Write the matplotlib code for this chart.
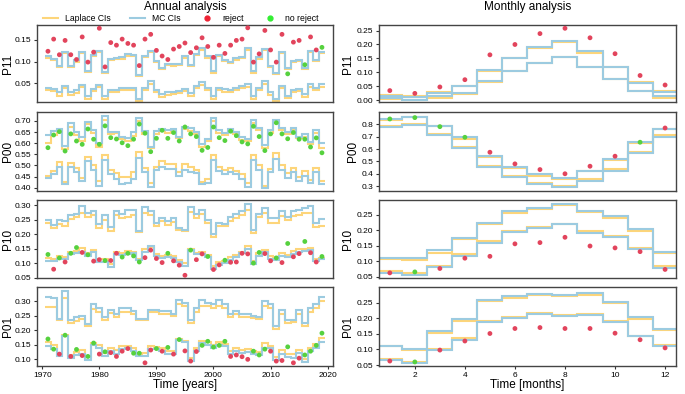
import matplotlib
matplotlib.use("Agg")
import matplotlib.pyplot as plt
from matplotlib.lines import Line2D
import numpy as np

plt.rcParams["font.family"] = ["Liberation Sans", "DejaVu Sans"]

YEARS = list(range(1971, 2020))
MONTHS = list(range(1, 13))

# ---- annual analysis -------------------------------------------------------
p11_obs = [0.124, 0.152, 0.116, 0.149, 0.116, 0.105, 0.157, 0.099, 0.122, 0.177,
           0.088, 0.144, 0.138, 0.152, 0.142, 0.138, 0.091, 0.152, 0.163, 0.126,
           0.113, 0.105, 0.129, 0.135, 0.143, 0.121, 0.132, 0.155, 0.135, 0.110,
           0.138, 0.119, 0.138, 0.149, 0.152, 0.178, 0.099, 0.118, 0.172, 0.127,
           0.099, 0.163, 0.072, 0.145, 0.149, 0.093, 0.157, 0.127, 0.133]
p11_rej = [1] * 42 + [0, 1, 1, 0, 1, 1, 0]
p11_mc_up = [0.112, 0.107, 0.090, 0.122, 0.090, 0.103, 0.123, 0.079, 0.115, 0.125,
             0.077, 0.107, 0.108, 0.110, 0.117, 0.115, 0.070, 0.112, 0.125, 0.102,
             0.085, 0.095, 0.094, 0.094, 0.112, 0.093, 0.118, 0.131, 0.112, 0.078,
             0.115, 0.105, 0.100, 0.108, 0.111, 0.131, 0.078, 0.110, 0.130, 0.090,
             0.075, 0.123, 0.085, 0.102, 0.105, 0.085, 0.125, 0.105, 0.122]
p11_lap_up = [0.109, 0.104, 0.088, 0.119, 0.087, 0.100, 0.120, 0.076, 0.112, 0.122,
              0.074, 0.104, 0.106, 0.107, 0.114, 0.112, 0.067, 0.110, 0.122, 0.099,
              0.082, 0.092, 0.091, 0.092, 0.109, 0.090, 0.116, 0.128, 0.109, 0.075,
              0.113, 0.102, 0.098, 0.105, 0.108, 0.128, 0.075, 0.107, 0.127, 0.087,
              0.072, 0.120, 0.082, 0.099, 0.102, 0.082, 0.122, 0.102, 0.120]
p11_mc_lo = [0.040, 0.038, 0.030, 0.045, 0.030, 0.035, 0.047, 0.022, 0.038, 0.047,
             0.020, 0.035, 0.035, 0.040, 0.040, 0.040, 0.015, 0.040, 0.055, 0.035,
             0.025, 0.030, 0.030, 0.032, 0.038, 0.028, 0.045, 0.053, 0.040, 0.020,
             0.040, 0.036, 0.035, 0.040, 0.045, 0.048, 0.020, 0.040, 0.055, 0.030,
             0.015, 0.045, 0.022, 0.035, 0.038, 0.025, 0.048, 0.040, 0.048]
p11_lap_lo = [0.034, 0.032, 0.022, 0.040, 0.024, 0.028, 0.042, 0.015, 0.032, 0.042,
              0.013, 0.029, 0.030, 0.035, 0.034, 0.034, 0.009, 0.034, 0.049, 0.029,
              0.019, 0.024, 0.025, 0.027, 0.032, 0.022, 0.040, 0.047, 0.034, 0.014,
              0.034, 0.030, 0.030, 0.034, 0.039, 0.042, 0.014, 0.034, 0.049, 0.024,
              0.010, 0.040, 0.016, 0.029, 0.032, 0.019, 0.042, 0.034, 0.042]

p00_obs = [0.580, 0.637, 0.652, 0.565, 0.642, 0.610, 0.595, 0.664, 0.618, 0.595,
           0.678, 0.625, 0.619, 0.602, 0.589, 0.618, 0.686, 0.645, 0.562, 0.622,
           0.658, 0.622, 0.648, 0.610, 0.673, 0.642, 0.630, 0.568, 0.581, 0.673,
           0.625, 0.612, 0.654, 0.634, 0.606, 0.597, 0.676, 0.630, 0.567, 0.642,
           0.692, 0.642, 0.620, 0.648, 0.618, 0.618, 0.583, 0.624, 0.557]
p00_rej = [0] * 49
p00_mc_up = [0.635, 0.655, 0.665, 0.588, 0.690, 0.650, 0.630, 0.695, 0.660, 0.600,
             0.722, 0.650, 0.652, 0.630, 0.625, 0.650, 0.715, 0.655, 0.585, 0.655,
             0.665, 0.660, 0.662, 0.630, 0.672, 0.668, 0.650, 0.595, 0.620, 0.715,
             0.660, 0.645, 0.665, 0.650, 0.628, 0.620, 0.705, 0.668, 0.590, 0.660,
             0.705, 0.670, 0.650, 0.670, 0.630, 0.640, 0.605, 0.660, 0.600]
p00_lap_up = [0.602, 0.638, 0.655, 0.575, 0.675, 0.638, 0.612, 0.685, 0.648, 0.585,
              0.705, 0.640, 0.645, 0.620, 0.612, 0.632, 0.702, 0.640, 0.578, 0.640,
              0.655, 0.648, 0.650, 0.622, 0.662, 0.655, 0.640, 0.585, 0.608, 0.700,
              0.648, 0.635, 0.652, 0.640, 0.615, 0.610, 0.690, 0.658, 0.580, 0.648,
              0.690, 0.660, 0.640, 0.660, 0.622, 0.628, 0.595, 0.648, 0.580]
p00_mc_lo = [0.445, 0.460, 0.495, 0.415, 0.495, 0.470, 0.430, 0.520, 0.480, 0.410,
             0.525, 0.460, 0.440, 0.415, 0.420, 0.440, 0.535, 0.470, 0.405, 0.480,
             0.495, 0.485, 0.485, 0.455, 0.480, 0.470, 0.465, 0.415, 0.420, 0.525,
             0.475, 0.460, 0.470, 0.460, 0.440, 0.405, 0.525, 0.480, 0.400, 0.470,
             0.530, 0.480, 0.445, 0.470, 0.430, 0.455, 0.420, 0.470, 0.415]
p00_lap_lo = [0.455, 0.475, 0.515, 0.425, 0.510, 0.490, 0.445, 0.540, 0.500, 0.430,
              0.545, 0.480, 0.465, 0.450, 0.450, 0.470, 0.560, 0.490, 0.420, 0.495,
              0.520, 0.505, 0.505, 0.470, 0.505, 0.495, 0.480, 0.425, 0.440, 0.545,
              0.495, 0.480, 0.490, 0.475, 0.460, 0.420, 0.545, 0.500, 0.410, 0.485,
              0.555, 0.500, 0.465, 0.490, 0.450, 0.475, 0.435, 0.490, 0.430]

p10_obs = [0.130, 0.079, 0.118, 0.104, 0.134, 0.154, 0.137, 0.129, 0.107, 0.112,
           0.109, 0.109, 0.134, 0.121, 0.134, 0.125, 0.104, 0.119, 0.145, 0.116,
           0.102, 0.134, 0.108, 0.093, 0.058, 0.145, 0.112, 0.132, 0.123, 0.078,
           0.094, 0.110, 0.103, 0.104, 0.134, 0.132, 0.100, 0.137, 0.133, 0.108,
           0.118, 0.102, 0.168, 0.122, 0.133, 0.175, 0.136, 0.104, 0.123]
p10_rej = [0, 1, 0, 1, 0, 0, 1, 0, 1, 1, 0, 1, 1, 0, 0, 0, 0, 1, 1, 1,
           1, 0, 1, 1, 1, 0, 1, 1, 0, 1, 1, 0, 1, 1, 1, 1, 0, 0, 1, 1,
           0, 1, 0, 1, 1, 0, 1, 1, 0]
p10_mc_up = [0.250, 0.232, 0.248, 0.245, 0.268, 0.270, 0.298, 0.275, 0.280, 0.235,
             0.265, 0.225, 0.280, 0.270, 0.285, 0.285, 0.210, 0.295, 0.280, 0.240,
             0.255, 0.245, 0.255, 0.220, 0.215, 0.295, 0.270, 0.285, 0.250, 0.200,
             0.240, 0.235, 0.260, 0.270, 0.280, 0.305, 0.215, 0.270, 0.290, 0.255,
             0.255, 0.280, 0.260, 0.280, 0.285, 0.290, 0.298, 0.240, 0.252]
p10_lap_up = [0.238, 0.222, 0.235, 0.230, 0.252, 0.258, 0.275, 0.260, 0.265, 0.222,
              0.250, 0.210, 0.265, 0.255, 0.260, 0.265, 0.208, 0.275, 0.265, 0.228,
              0.245, 0.232, 0.242, 0.215, 0.210, 0.278, 0.255, 0.270, 0.240, 0.192,
              0.230, 0.230, 0.245, 0.255, 0.265, 0.285, 0.205, 0.258, 0.275, 0.240,
              0.240, 0.262, 0.248, 0.262, 0.268, 0.272, 0.275, 0.225, 0.228]
p10_mc_lo = [0.108, 0.108, 0.115, 0.115, 0.130, 0.135, 0.140, 0.125, 0.140, 0.105,
             0.105, 0.088, 0.130, 0.128, 0.130, 0.135, 0.110, 0.140, 0.158, 0.125,
             0.118, 0.120, 0.118, 0.105, 0.090, 0.145, 0.130, 0.130, 0.120, 0.080,
             0.095, 0.100, 0.112, 0.120, 0.135, 0.150, 0.098, 0.125, 0.140, 0.115,
             0.112, 0.125, 0.120, 0.132, 0.140, 0.142, 0.145, 0.108, 0.115]
p10_lap_lo = [0.118, 0.115, 0.125, 0.122, 0.138, 0.142, 0.152, 0.135, 0.145, 0.115,
              0.115, 0.098, 0.140, 0.135, 0.142, 0.140, 0.115, 0.148, 0.155, 0.130,
              0.125, 0.128, 0.125, 0.112, 0.100, 0.148, 0.135, 0.138, 0.128, 0.090,
              0.105, 0.108, 0.120, 0.128, 0.140, 0.160, 0.108, 0.135, 0.145, 0.125,
              0.122, 0.135, 0.128, 0.142, 0.148, 0.150, 0.152, 0.115, 0.118]

p01_obs = [0.170, 0.135, 0.118, 0.183, 0.110, 0.134, 0.113, 0.110, 0.156, 0.118,
           0.126, 0.123, 0.110, 0.128, 0.137, 0.121, 0.121, 0.088, 0.132, 0.137,
           0.128, 0.141, 0.118, 0.168, 0.129, 0.094, 0.127, 0.148, 0.162, 0.142,
           0.148, 0.162, 0.110, 0.115, 0.109, 0.100, 0.128, 0.115, 0.135, 0.128,
           0.094, 0.096, 0.143, 0.088, 0.104, 0.115, 0.128, 0.148, 0.190]
p01_rej = [0, 0, 1, 0, 1, 0, 1, 0, 0, 1, 0, 1, 1, 1, 1, 0, 0, 1, 1, 0,
           1, 0, 1, 0, 1, 1, 1, 0, 0, 0, 0, 0, 1, 1, 1, 1, 0, 0, 0, 1,
           1, 1, 0, 1, 1, 0, 0, 0, 0]
p01_mc_up = [0.315, 0.310, 0.240, 0.335, 0.235, 0.245, 0.250, 0.220, 0.290, 0.275,
             0.245, 0.270, 0.255, 0.275, 0.275, 0.265, 0.240, 0.240, 0.270, 0.270,
             0.265, 0.265, 0.255, 0.305, 0.295, 0.235, 0.275, 0.305, 0.295, 0.290,
             0.305, 0.290, 0.255, 0.265, 0.255, 0.255, 0.250, 0.245, 0.300, 0.290,
             0.215, 0.270, 0.235, 0.235, 0.270, 0.225, 0.275, 0.290, 0.315]
p01_lap_up = [0.280, 0.280, 0.235, 0.310, 0.225, 0.232, 0.240, 0.215, 0.272, 0.262,
              0.235, 0.258, 0.245, 0.262, 0.262, 0.255, 0.235, 0.236, 0.262, 0.262,
              0.255, 0.255, 0.248, 0.292, 0.282, 0.225, 0.262, 0.285, 0.282, 0.278,
              0.285, 0.278, 0.245, 0.255, 0.245, 0.245, 0.242, 0.238, 0.282, 0.275,
              0.205, 0.255, 0.225, 0.228, 0.255, 0.215, 0.262, 0.275, 0.300]
p01_mc_lo = [0.145, 0.135, 0.110, 0.180, 0.105, 0.115, 0.120, 0.098, 0.148, 0.140,
             0.112, 0.130, 0.120, 0.135, 0.138, 0.128, 0.110, 0.112, 0.135, 0.135,
             0.128, 0.120, 0.120, 0.165, 0.158, 0.095, 0.128, 0.155, 0.150, 0.140,
             0.150, 0.145, 0.118, 0.128, 0.122, 0.125, 0.118, 0.115, 0.140, 0.138,
             0.098, 0.120, 0.108, 0.105, 0.122, 0.090, 0.128, 0.140, 0.158]
p01_lap_lo = [0.158, 0.148, 0.118, 0.185, 0.115, 0.125, 0.132, 0.108, 0.155, 0.148,
              0.122, 0.140, 0.132, 0.145, 0.145, 0.138, 0.118, 0.122, 0.145, 0.142,
              0.138, 0.130, 0.130, 0.170, 0.162, 0.105, 0.138, 0.162, 0.158, 0.150,
              0.158, 0.152, 0.130, 0.138, 0.132, 0.135, 0.128, 0.125, 0.155, 0.145,
              0.108, 0.132, 0.118, 0.118, 0.132, 0.100, 0.138, 0.152, 0.175]

# ---- monthly analysis ------------------------------------------------------
m11_obs = [0.035, 0.025, 0.048, 0.074, 0.163, 0.200, 0.239, 0.258, 0.224, 0.167, 0.089, 0.055]
m11_rej = [1] * 12
m11_mc_up = [0.016, 0.012, 0.027, 0.050, 0.107, 0.153, 0.190, 0.212, 0.175, 0.120, 0.062, 0.030]
m11_lap_up = [0.018, 0.015, 0.029, 0.052, 0.105, 0.153, 0.188, 0.210, 0.170, 0.118, 0.065, 0.032]
m11_mc_lo = [0.007, 0.003, 0.014, 0.028, 0.068, 0.105, 0.135, 0.157, 0.120, 0.078, 0.035, 0.015]
m11_lap_lo = [0.005, 0.002, 0.010, 0.024, 0.066, 0.104, 0.135, 0.155, 0.120, 0.077, 0.033, 0.010]

m00_obs = [0.843, 0.854, 0.781, 0.695, 0.574, 0.480, 0.434, 0.400, 0.461, 0.542, 0.655, 0.770]
m00_rej = [0, 0, 0, 0, 1, 1, 1, 1, 1, 1, 0, 1]
m00_mc_up = [0.845, 0.860, 0.790, 0.700, 0.540, 0.455, 0.395, 0.365, 0.425, 0.520, 0.660, 0.765]
m00_lap_up = [0.835, 0.855, 0.785, 0.685, 0.535, 0.445, 0.385, 0.360, 0.420, 0.510, 0.645, 0.765]
m00_mc_lo = [0.780, 0.795, 0.715, 0.610, 0.455, 0.370, 0.315, 0.290, 0.340, 0.425, 0.570, 0.700]
m00_lap_lo = [0.785, 0.800, 0.725, 0.620, 0.460, 0.385, 0.325, 0.300, 0.355, 0.435, 0.580, 0.710]

m10_obs = [0.063, 0.066, 0.077, 0.110, 0.116, 0.156, 0.160, 0.177, 0.149, 0.143, 0.131, 0.074]
m10_rej = [1, 0, 1, 1, 1, 1, 1, 1, 1, 1, 1, 1]
m10_mc_up = [0.112, 0.110, 0.137, 0.176, 0.222, 0.262, 0.272, 0.284, 0.262, 0.245, 0.203, 0.130]
m10_lap_up = [0.108, 0.104, 0.128, 0.170, 0.218, 0.255, 0.267, 0.280, 0.258, 0.238, 0.198, 0.128]
m10_mc_lo = [0.063, 0.055, 0.082, 0.118, 0.160, 0.195, 0.207, 0.218, 0.190, 0.178, 0.140, 0.080]
m10_lap_lo = [0.068, 0.063, 0.085, 0.122, 0.165, 0.197, 0.210, 0.220, 0.197, 0.182, 0.143, 0.085]

m01_obs = [0.063, 0.060, 0.098, 0.127, 0.151, 0.167, 0.170, 0.167, 0.167, 0.152, 0.131, 0.105]
m01_rej = [1, 0, 1, 1, 1, 1, 1, 1, 1, 1, 1, 1]
m01_mc_up = [0.112, 0.100, 0.160, 0.198, 0.258, 0.272, 0.278, 0.273, 0.282, 0.253, 0.205, 0.165]
m01_lap_up = [0.110, 0.098, 0.152, 0.190, 0.254, 0.266, 0.275, 0.270, 0.274, 0.248, 0.198, 0.162]
m01_mc_lo = [0.065, 0.057, 0.098, 0.130, 0.188, 0.200, 0.212, 0.208, 0.210, 0.188, 0.142, 0.112]
m01_lap_lo = [0.070, 0.060, 0.103, 0.136, 0.192, 0.205, 0.215, 0.210, 0.212, 0.190, 0.143, 0.115]

LAP = "#FDD57A"
MC = "#9CCBE0"
RED = "#E2445C"
GREEN = "#56D13E"

annual = [
    ("P11", p11_obs, p11_rej, p11_lap_up, p11_lap_lo, p11_mc_up, p11_mc_lo,
     (0.007, 0.184), [0.05, 0.10, 0.15], "%.2f"),
    ("P00", p00_obs, p00_rej, p00_lap_up, p00_lap_lo, p00_mc_up, p00_mc_lo,
     (0.385, 0.739), np.arange(0.40, 0.701, 0.05), "%.2f"),
    ("P10", p10_obs, p10_rej, p10_lap_up, p10_lap_lo, p10_mc_up, p10_mc_lo,
     (0.048, 0.318), np.arange(0.05, 0.301, 0.05), "%.2f"),
    ("P01", p01_obs, p01_rej, p01_lap_up, p01_lap_lo, p01_mc_up, p01_mc_lo,
     (0.077, 0.348), np.arange(0.10, 0.301, 0.05), "%.2f"),
]
monthly = [
    ("P11", m11_obs, m11_rej, m11_lap_up, m11_lap_lo, m11_mc_up, m11_mc_lo,
     (-0.006, 0.269), np.arange(0.0, 0.251, 0.05), "%.2f"),
    ("P00", m00_obs, m00_rej, m00_lap_up, m00_lap_lo, m00_mc_up, m00_mc_lo,
     (0.26, 0.897), np.arange(0.3, 0.81, 0.1), "%.1f"),
    ("P10", m10_obs, m10_rej, m10_lap_up, m10_lap_lo, m10_mc_up, m10_mc_lo,
     (0.046, 0.296), np.arange(0.05, 0.251, 0.05), "%.2f"),
    ("P01", m01_obs, m01_rej, m01_lap_up, m01_lap_lo, m01_mc_up, m01_mc_lo,
     (0.047, 0.299), np.arange(0.05, 0.251, 0.05), "%.2f"),
]

fig = plt.figure(figsize=(6.85, 3.94), dpi=100)
rows = [(0.741, 0.195), (0.515, 0.200), (0.294, 0.198), (0.071, 0.200)]


def draw(ax, x, spec, xlim, last, label_x):
    name, obs, rej, lu, ll, mu, ml, ylim, yt, fmt = spec
    x = np.asarray(x)
    edges = np.append(x - 0.5, x[-1] + 0.5)
    for vals in (lu, ll):
        ax.stairs(vals, edges, baseline=None, color=LAP, lw=1.5)
    for vals in (mu, ml):
        ax.stairs(vals, edges, baseline=None, color=MC, lw=1.5)
    cols = [RED if r else GREEN for r in rej]
    ax.scatter(x, obs, c=cols, s=12, zorder=5, linewidths=0)
    ax.set_xlim(*xlim)
    ax.set_ylim(*ylim)
    ax.set_yticks(yt)
    ax.set_yticklabels([fmt % v for v in yt])
    ax.set_ylabel(name, fontsize=8.5)
    ax.yaxis.set_label_coords(label_x, 0.5)
    ax.tick_params(labelsize=6, length=2.5, width=0.8, pad=1.5, color="#333333")
    for s in ax.spines.values():
        s.set_color("#444444")
        s.set_linewidth(1.0)
    if not last:
        ax.set_xticks([])


for i, (b, h) in enumerate(rows):
    axl = fig.add_axes([0.054, b, 0.432, h])
    draw(axl, YEARS, annual[i], (1969.08, 2020.92), i == 3, -0.078)
    axr = fig.add_axes([0.553, b, 0.434, h])
    draw(axr, MONTHS, monthly[i], (0.56, 12.44), i == 3,
         -0.066 if i == 1 else -0.083)
    if i == 3:
        axl.set_xticks([1970, 1980, 1990, 2000, 2010, 2020])
        axl.set_xlabel("Time [years]", fontsize=8.5, labelpad=0)
        axr.set_xticks([2, 4, 6, 8, 10, 12])
        axr.set_xlabel("Time [months]", fontsize=8.5, labelpad=0)

fig.text(0.27, 0.981, "Annual analysis", ha="center", va="center", fontsize=8.5)
fig.text(0.77, 0.981, "Monthly analysis", ha="center", va="center", fontsize=8.5)

handles = [
    Line2D([], [], color=LAP, lw=1.5),
    Line2D([], [], color=MC, lw=1.5),
    Line2D([], [], ls="", marker="o", color="#EE2233", markersize=3.5),
    Line2D([], [], ls="", marker="o", color="#33EE33", markersize=3.5),
]
fig.legend(handles, ["Laplace CIs", "MC CIs", "reject", "no reject"],
           loc="center", bbox_to_anchor=(0.2635, 0.952), ncol=4, frameon=False,
           fontsize=6.2, handlelength=1.8, columnspacing=2.2, handletextpad=0.8,
           borderpad=0, borderaxespad=0)

fig.savefig("out.png", dpi=100)
